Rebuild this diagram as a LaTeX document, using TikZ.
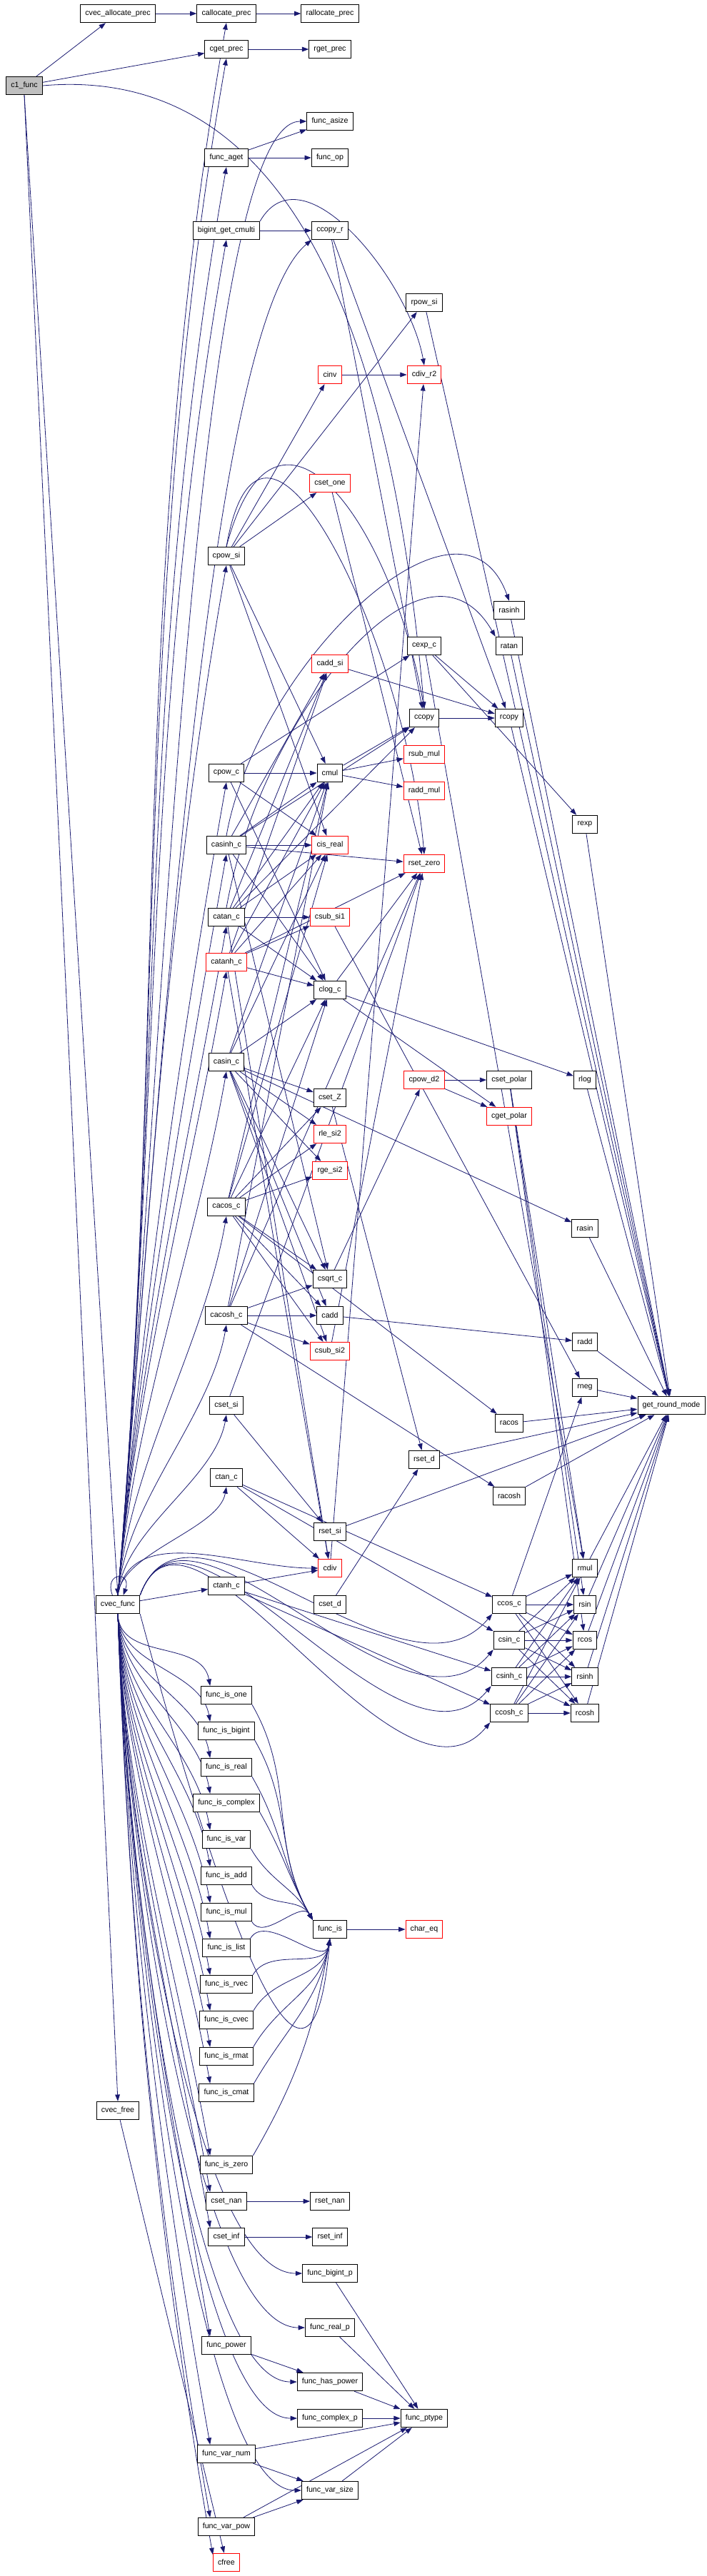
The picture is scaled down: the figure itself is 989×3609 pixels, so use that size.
\documentclass[tikz,border=0pt]{standalone}
\usepackage{fontspec}
\usepackage{tikz}
\usetikzlibrary{arrows.meta,backgrounds}
\newfontfamily\graphfont{Liberation Sans}
\definecolor{edgeblue}{RGB}{25,25,112}
\definecolor{rootgray}{RGB}{191,191,191}
\tikzset{
  fn/.style={draw=black, line width=0.75pt, fill=white, minimum height=19pt,
    inner xsep=5pt, inner ysep=2pt, font=\graphfont\fontsize{8}{9}\selectfont},
  fnred/.style={fn, draw=red},
  fnroot/.style={fn, fill=rootgray},
  call/.style={draw=edgeblue, line width=0.6pt, -{Triangle[length=7pt,width=5pt]}}
}

\begin{document}
\begin{tikzpicture}[x=0.75pt, y=-0.75pt]
    \useasboundingbox (0,0) rectangle (989,3609);

    % caller and its direct helpers
    \node[fnroot] (c1func) at (34,120) {c1\_func};
    \node[fn] (cvecallocprec) at (165,19) {cvec\_allocate\_prec};
    \node[fn] (cvecfunc) at (165,2248) {cvec\_func};
    \node[fn] (cvecfree) at (165,2957) {cvec\_free};

    % second column
    \node[fn] (callocprec) at (317,19) {callocate\_prec};
    \node[fn] (cgetprec) at (317,69) {cget\_prec};
    \node[fn] (funcaget) at (317,221) {func\_aget};
    \node[fn] (bigintget) at (317,323) {bigint\_get\_cmulti};
    \node[fn] (cpowsi) at (317,779) {cpow\_si};
    \node[fn] (cpowc) at (317,1083) {cpow\_c};
    \node[fn] (casinhc) at (317,1184) {casinh\_c};
    \node[fn] (catanc) at (317,1285) {catan\_c};
    \node[fnred] (catanhc) at (317,1348) {catanh\_c};
    \node[fn] (casinc) at (317,1488) {casin\_c};
    \node[fn] (cacosc) at (317,1691) {cacos\_c};
    \node[fn] (cacoshc) at (317,1843) {cacosh\_c};
    \node[fn] (csetsi) at (317,1969) {cset\_si};
    \node[fn] (ctanc) at (317,2070) {ctan\_c};
    \node[fn] (ctanhc) at (317,2222) {ctanh\_c};
    \node[fn] (funcisone) at (317,2375) {func\_is\_one};
    \node[fn] (funcisbigint) at (317,2425) {func\_is\_bigint};
    \node[fn] (funcisreal) at (317,2476) {func\_is\_real};
    \node[fn] (funciscomplex) at (317,2526) {func\_is\_complex};
    \node[fn] (funcisvar) at (317,2577) {func\_is\_var};
    \node[fn] (funcisadd) at (317,2628) {func\_is\_add};
    \node[fn] (funcismul) at (317,2679) {func\_is\_mul};
    \node[fn] (funcislist) at (317,2729) {func\_is\_list};
    \node[fn] (funcisrvec) at (317,2780) {func\_is\_rvec};
    \node[fn] (funciscvec) at (317,2830) {func\_is\_cvec};
    \node[fn] (funcisrmat) at (317,2881) {func\_is\_rmat};
    \node[fn] (funciscmat) at (317,2932) {func\_is\_cmat};
    \node[fn] (funciszero) at (317,3033) {func\_is\_zero};
    \node[fn] (csetnan) at (317,3084) {cset\_nan};
    \node[fn] (csetinf) at (317,3134) {cset\_inf};
    \node[fn] (funcpower) at (317,3286) {func\_power};
    \node[fn] (funcvarnum) at (317,3438) {func\_var\_num};
    \node[fn] (funcvarpow) at (317,3540) {func\_var\_pow};
    \node[fnred] (cfree) at (317,3590) {cfree};

    % third column
    \node[fn] (rallocprec) at (462,19) {rallocate\_prec};
    \node[fn] (rgetprec) at (462,69) {rget\_prec};
    \node[fn] (funcasize) at (462,170) {func\_asize};
    \node[fn] (funcop) at (462,221) {func\_op};
    \node[fn] (ccopyr) at (462,323) {ccopy\_r};
    \node[fnred] (cinv) at (462,525) {cinv};
    \node[fnred] (csetone) at (462,677) {cset\_one};
    \node[fnred] (caddsi) at (462,930) {cadd\_si};
    \node[fn] (cmul) at (462,1083) {cmul};
    \node[fnred] (cisreal) at (462,1184) {cis\_real};
    \node[fnred] (csubsione) at (462,1285) {csub\_si1};
    \node[fn] (clogc) at (462,1387) {clog\_c};
    \node[fn] (csetZ) at (462,1538) {cset\_Z};
    \node[fnred] (rlesitwo) at (462,1589) {rle\_si2};
    \node[fnred] (rgesitwo) at (462,1640) {rge\_si2};
    \node[fn] (csqrtc) at (462,1792) {csqrt\_c};
    \node[fn] (cadd) at (462,1843) {cadd};
    \node[fnred] (csubsitwo) at (462,1893) {csub\_si2};
    \node[fn] (rsetsi) at (462,2146) {rset\_si};
    \node[fnred] (cdiv) at (462,2197) {cdiv};
    \node[fn] (csetd) at (462,2248) {cset\_d};
    \node[fn] (funcis) at (462,2703) {func\_is};
    \node[fn] (rsetnan) at (462,3084) {rset\_nan};
    \node[fn] (rsetinf) at (462,3134) {rset\_inf};
    \node[fn] (funcbigintp) at (462,3185) {func\_bigint\_p};
    \node[fn] (funcrealp) at (462,3261) {func\_real\_p};
    \node[fn] (funchaspower) at (462,3337) {func\_has\_power};
    \node[fn] (funccomplexp) at (462,3388) {func\_complex\_p};
    \node[fn] (funcvarsize) at (462,3489) {func\_var\_size};

    % fourth column
    \node[fn] (rpowsi) at (594,424) {rpow\_si};
    \node[fnred] (cdivrtwo) at (594,525) {cdiv\_r2};
    \node[fn] (cexpc) at (594,905) {cexp\_c};
    \node[fn] (ccopy) at (594,1006) {ccopy};
    \node[fnred] (rsubmul) at (594,1057) {rsub\_mul};
    \node[fnred] (raddmul) at (594,1108) {radd\_mul};
    \node[fnred] (rsetzero) at (594,1210) {rset\_zero};
    \node[fnred] (cpowdtwo) at (594,1513) {cpow\_d2};
    \node[fn] (rsetd) at (594,2045) {rset\_d};
    \node[fnred] (chareq) at (594,2703) {char\_eq};
    \node[fn] (funcptype) at (594,3388) {func\_ptype};

    % fifth column
    \node[fn] (rasinh) at (713,855) {rasinh};
    \node[fn] (ratan) at (713,905) {ratan};
    \node[fn] (rcopy) at (713,1006) {rcopy};
    \node[fn] (csetpolar) at (713,1513) {cset\_polar};
    \node[fnred] (cgetpolar) at (713,1564) {cget\_polar};
    \node[fn] (racos) at (713,1994) {racos};
    \node[fn] (racosh) at (713,2096) {racosh};
    \node[fn] (ccosc) at (713,2248) {ccos\_c};
    \node[fn] (csinc) at (713,2298) {csin\_c};
    \node[fn] (csinhc) at (713,2349) {csinh\_c};
    \node[fn] (ccoshc) at (713,2400) {ccosh\_c};

    % sixth and last column
    \node[fn] (rexp) at (819,1155) {rexp};
    \node[fn] (rlog) at (819,1513) {rlog};
    \node[fn] (rasin) at (819,1721) {rasin};
    \node[fn] (radd) at (819,1880) {radd};
    \node[fn] (rneg) at (819,1944) {rneg};
    \node[fn] (rmul) at (819,2197) {rmul};
    \node[fn] (rsin) at (819,2248) {rsin};
    \node[fn] (rcos) at (819,2298) {rcos};
    \node[fn] (rsinh) at (819,2349) {rsinh};
    \node[fn] (rcosh) at (819,2400) {rcosh};
    \node[fn] (getroundmode) at (940,1969) {get\_round\_mode};

    \begin{scope}[on background layer]
    % calls of c1_func
    \draw[call] (c1func) -- (cvecallocprec);
    \draw[call] (c1func) -- (cgetprec);
    \draw[call] (c1func.east) .. controls +(5:300pt) and +(95:300pt) .. (ccopy.north);
    \draw[call] (c1func.south) -- (cvecfunc.north);
    \draw[call] (c1func.south) -- (cvecfree.north);
    \draw[call] (cvecfree) -- (cfree);

    % calls of cvec_func, upwards (last value: pull of the curve, in pt)
    \draw[call] (cvecfunc.120) to[out=110,in=70,looseness=6] (cvecfunc.60);
    \foreach \t/\l in {callocprec/580, cgetprec/560, funcaget/530, bigintget/500,
                       cpowsi/380, cpowc/300, casinhc/270, catanc/250, catanhc/230,
                       casinc/190, cacosc/140, cacoshc/100, csetsi/70, ctanc/45}
        \draw[call] (cvecfunc.north) .. controls +(85:\l pt) and +(-100:\l pt) .. (\t.south);
    \draw[call] (cvecfunc.north) .. controls +(85:540pt) and +(180:120pt) .. (funcasize.west);
    \draw[call] (cvecfunc.north) .. controls +(85:500pt) and +(-140:150pt) .. (ccopyr.south west);
    \draw[call] (cvecfunc.north) .. controls +(80:80pt) and +(180:80pt) .. (cdiv.west);
    \draw[call] (cvecfunc) -- (ctanhc);
    \foreach \t in {ccosc,csinc,csinhc,ccoshc}
        \draw[call] (cvecfunc.north east) to[out=70,in=-130] (\t.south west);

    % calls of cvec_func, downwards
    \foreach \t/\l in {funcisone/50, funcisbigint/55, funcisreal/65, funciscomplex/75,
                       funcisvar/90, funcisadd/100, funcismul/110, funcislist/120,
                       funcisrvec/135, funciscvec/145, funcisrmat/160, funciscmat/170,
                       funciszero/200, csetnan/210, csetinf/225, funcpower/265,
                       funcvarnum/300, funcvarpow/330, cfree/340}
        \draw[call] (cvecfunc.south) .. controls +(-88:\l pt) and +(100:\l pt) .. (\t.150);
    \foreach \t/\l in {funcbigintp/240, funcrealp/260, funchaspower/280,
                       funccomplexp/290, funcvarsize/320}
        \draw[call] (cvecfunc.south) .. controls +(-88:\l pt) and +(180:110pt) .. (\t.west);
    \draw[call] (cvecfunc.south east) .. controls +(-75:260pt) and +(-95:260pt) .. (funcis.south);

    % second column to the right
    \foreach \a/\b in {cvecallocprec/callocprec, callocprec/rallocprec, cgetprec/rgetprec,
        funcaget/funcasize, funcaget/funcop, bigintget/ccopyr,
        cpowsi/csetone, cpowsi/cinv, cpowsi/rpowsi, cpowsi/cmul, cpowsi/cisreal,
        cpowc/cmul, cpowc/cexpc, cpowc/clogc, cpowc/cisreal,
        casinhc/cisreal, casinhc/cmul, casinhc/caddsi, casinhc/csqrtc, casinhc/clogc,
        casinhc/rsetzero, casinhc/ccopy,
        catanc/csubsione, catanc/caddsi, catanc/cmul, catanc/clogc, catanc/cdiv,
        catanc/cisreal, catanc/ccopy,
        catanhc/csubsione, catanhc/caddsi, catanhc/cmul, catanhc/clogc, catanhc/cdiv,
        catanhc/cisreal, catanhc/rsetzero,
        casinc/clogc, casinc/cmul, casinc/csqrtc, casinc/csetZ, casinc/rlesitwo,
        casinc/rgesitwo, casinc/cadd, casinc/cisreal, casinc/rasin, casinc/csubsitwo,
        cacosc/clogc, cacosc/cmul, cacosc/csqrtc, cacosc/csetZ, cacosc/rlesitwo,
        cacosc/rgesitwo, cacosc/cadd, cacosc/csubsitwo, cacosc/cisreal, cacosc/racos,
        cacoshc/cadd, cacoshc/csubsitwo, cacoshc/csqrtc, cacoshc/cmul, cacoshc/clogc,
        cacoshc/racosh, cacoshc/rsetzero,
        csetsi/rsetsi, csetsi/rsetzero, ctanc/cdiv, ctanc/ccosc, ctanc/csinc,
        ctanhc/cdiv, ctanhc/csinhc, ctanhc/ccoshc}
        \draw[call] (\a) -- (\b);
    \draw[call] (bigintget.north east) .. controls +(60:90pt) and +(100:90pt) .. (cdivrtwo.north);
    \draw[call] (cpowsi.north) .. controls +(75:200pt) and +(100:200pt) .. (ccopy.north);
    \draw[call] (cpowsi.north) .. controls +(80:220pt) and +(95:220pt) .. (rsetzero.north);
    \draw[call] (casinhc.north) .. controls +(80:180pt) and +(110:150pt) .. (rasinh.north);
    \draw[call] (catanc.north) .. controls +(80:200pt) and +(120:150pt) .. (ratan.north west);

    % third column onwards
    \foreach \a/\b in {cinv/cdivrtwo, cdiv/cdivrtwo, csetone/rsetzero, caddsi/rcopy,
        ccopy/rcopy, ccopyr/rcopy, ccopyr/ccopy, cmul/ccopy, cmul/rsubmul, cmul/raddmul,
        clogc/rlog, clogc/cgetpolar, clogc/rsetzero, csubsione/rneg,
        cpowdtwo/csetpolar, cpowdtwo/cgetpolar, csqrtc/cpowdtwo, csetZ/rsetd,
        csetd/rsetd, cadd/radd, csubsitwo/rsetzero, cexpc/rexp, cexpc/rcopy,
        cexpc/rmul, csetpolar/rcos, csetpolar/rsin, csetpolar/rmul, ccosc/rneg}
        \draw[call] (\a) -- (\b);
    \foreach \a in {ccosc,csinc,csinhc,ccoshc}
        \foreach \b in {rmul,rsin,rcos,rsinh,rcosh}
            \draw[call] (\a) -- (\b);
    \foreach \a in {rpowsi,rasinh,ratan,rexp,rcopy,rlog,rasin,radd,rneg,racos,rsetd,
                    racosh,rsetsi,rmul,rsin,rcos,rsinh,rcosh}
        \draw[call] (\a) -- (getroundmode);

    % type tests
    \foreach \a in {funcisone,funcisbigint,funcisreal,funciscomplex,funcisvar,funcisadd,funcismul}
        \draw[call] (\a.south east) to[out=-60,in=120] (funcis.north west);
    \foreach \a in {funcislist,funcisrvec,funciscvec,funcisrmat,funciscmat,funciszero}
        \draw[call] (\a.north east) to[out=60,in=-100] (funcis.south);
    \draw[call] (funcis) -- (chareq);
    \draw[call] (csetnan) -- (rsetnan);
    \draw[call] (csetinf) -- (rsetinf);
    \foreach \a in {funcbigintp,funcrealp,funchaspower,funccomplexp,funcvarnum,funcvarsize,funcvarpow}
        \draw[call] (\a) -- (funcptype);
    \draw[call] (funcpower) -- (funchaspower);
    \draw[call] (funcvarnum) -- (funcvarsize);
    \draw[call] (funcvarpow) -- (funcvarsize);
    \end{scope}
\end{tikzpicture}
\end{document}
